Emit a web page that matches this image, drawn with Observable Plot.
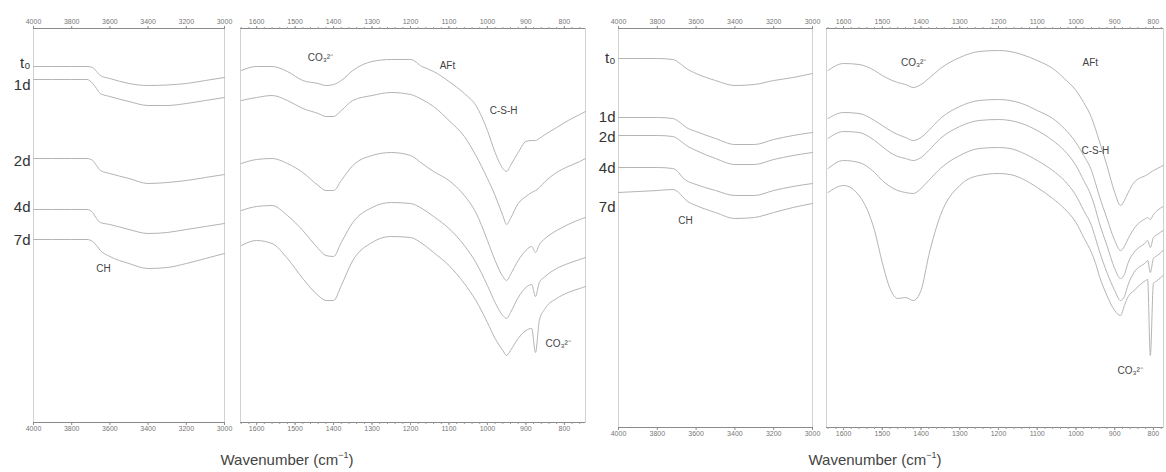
<!DOCTYPE html>
<html><head><meta charset="utf-8">
<script src="https://cdn.jsdelivr.net/npm/d3@7"></script>
<script src="https://cdn.jsdelivr.net/npm/@observablehq/plot@0.6"></script>
<style>
html,body{margin:0;padding:0;background:#fff;}
#chart{position:relative;width:1166px;height:472px;overflow:hidden;font-family:"Liberation Sans",Arial,sans-serif;}
#chart svg{position:absolute;top:0;overflow:visible;}
.xt{position:absolute;top:451px;font-size:15px;color:#444;white-space:nowrap;transform:translateX(-50%);}
.xt sup{font-size:9px;vertical-align:7px;line-height:0;}
</style></head><body><div id="chart"></div>
<script>
// ---- data (transmittance, arbitrary offset units) ----
const ages = ["t₀", "1d", "2d", "4d", "7d"];

// O-H region, 4000-3000 cm-1
const wnOH = [4000, 3900, 3800, 3720, 3690, 3670, 3650, 3600, 3500, 3400, 3300, 3200, 3100, 3000];
const leftOH = [
  [356, 356, 356, 356, 355, 351, 347, 344, 339, 337, 337.5, 339, 342, 345],
  [343, 343, 343, 343, 339, 334, 329, 326, 321, 317, 317, 319, 322, 325],
  [264, 264, 264, 264, 262, 257, 252, 249, 244, 239, 240, 242, 245, 248],
  [213, 213, 213, 213, 210, 204, 200, 198, 193, 189, 190, 193, 196, 199],
  [183, 183, 183, 183, 181, 177, 172, 166, 159, 154, 155, 159, 164, 169]
];
const rightOH = [
  [369, 369, 369, 368, 365, 362, 359, 354, 347, 342, 343, 347, 350, 354],
  [310, 310, 310, 309, 306, 303, 300, 296, 289, 283, 283, 288, 292, 295],
  [292, 292, 292, 291, 288, 285, 282, 277, 269, 263, 263, 268, 272, 275],
  [260, 260, 260, 259, 255, 250, 247, 243, 237, 232, 232, 237, 241, 244],
  [235, 236, 237, 238, 235, 231, 227, 222, 215, 209, 210, 215, 220, 224]
];

// fingerprint region, left sample
const wnL = [1640, 1600, 1560, 1520, 1480, 1440, 1420, 1400, 1380, 1350, 1300, 1250, 1200, 1170, 1140, 1100, 1060, 1030, 1000, 980, 960, 950, 940, 920, 900, 885, 875, 865, 850, 820, 790, 760, 745];
const leftFP = [
  [352, 356, 356, 351, 342, 339, 337, 338, 342, 352, 361, 363, 363, 356, 351, 341, 329, 317, 292, 270, 254, 251, 257, 270, 281, 282, 282, 284, 288, 295, 302, 308, 311],
  [322, 325, 327, 322, 314, 309, 306, 306, 312, 322, 327, 330, 328, 323, 316, 302, 286, 267, 244, 227, 207, 198, 204, 219, 226, 230, 232, 235, 241, 250, 256, 261, 264],
  [259, 263, 264, 259, 250, 237, 232, 232, 242, 257, 267, 270, 267, 259, 251, 242, 227, 210, 182, 162, 146, 142, 148, 162, 172, 176, 170, 178, 184, 192, 198, 203, 205],
  [212, 216, 217, 207, 192, 174, 167, 166, 180, 200, 215, 220, 219, 214, 206, 194, 177, 160, 137, 120, 107, 104, 110, 125, 135, 138, 126, 140, 146, 154, 159, 163, 165],
  [177, 182, 179, 164, 144, 127, 122, 122, 137, 162, 180, 186, 185, 179, 170, 157, 139, 122, 100, 84, 72, 67, 72, 84, 92, 94, 70, 102, 114, 124, 130, 134, 136]
];

// fingerprint region, right sample
const wnR = [1640, 1600, 1560, 1520, 1500, 1480, 1460, 1440, 1420, 1400, 1380, 1350, 1300, 1250, 1200, 1170, 1140, 1100, 1060, 1030, 1000, 980, 960, 950, 940, 920, 900, 885, 875, 870, 865, 850, 820, 815, 808, 800, 790, 775];
const rightFP = [
  [357, 364, 363, 357, 352, 348, 345, 343, 340, 343, 349, 359, 370, 376, 377, 376, 373, 367, 359, 349, 337, 325, 310, 299, 287, 262, 235, 222, 227, 231, 235, 245, 252, 253, 255, 257, 259, 262],
  [309, 315, 314, 307, 302, 297, 293, 290, 287, 290, 297, 309, 321, 327, 328, 327, 324, 317, 309, 299, 285, 272, 257, 245, 232, 209, 187, 177, 181, 185, 189, 199, 209, 210, 208, 213, 217, 221],
  [289, 296, 295, 287, 281, 275, 271, 269, 267, 270, 277, 289, 301, 307, 308, 307, 304, 297, 287, 277, 262, 247, 231, 219, 205, 182, 159, 149, 153, 159, 165, 175, 185, 187, 180, 190, 193, 197],
  [259, 267, 265, 255, 247, 241, 237, 235, 234, 239, 247, 259, 272, 279, 280, 279, 275, 267, 257, 247, 232, 217, 202, 190, 177, 155, 137, 127, 131, 137, 143, 155, 165, 167, 155, 169, 172, 177],
  [235, 242, 232, 197, 165, 139, 129, 130, 127, 137, 172, 212, 242, 252, 254, 253, 249, 240, 229, 219, 205, 190, 175, 165, 152, 132, 117, 112, 122, 127, 131, 137, 147, 148, 72, 144, 147, 152]
];

// series label heights
const leftLabelY = [359, 337, 261, 215, 182];
const rightLabelY = [369, 310, 290, 259, 220];

// tick values
const ticksOH = [4000, 3800, 3600, 3400, 3200, 3000];
const ticksFP = [1600, 1500, 1400, 1300, 1200, 1100, 1000, 900, 800];
const minorFP = d3.range(760, 1641, 20);

// band annotations
const leftOHNoteText = ["CH"], leftOHNoteW = [3634], leftOHNoteV = [154];
const leftFPNoteText = ["CO₃²⁻", "AFt", "C-S-H", "CO₃²⁻"];
const leftFPNoteW = [1434, 1104, 958, 816];
const leftFPNoteV = [365, 357, 312, 79];
const rightOHNoteText = ["CH"], rightOHNoteW = [3655], rightOHNoteV = [207];
const rightFPNoteText = ["CO₃²⁻", "AFt", "C-S-H", "CO₃²⁻"];
const rightFPNoteW = [1419, 963, 950, 860];
const rightFPNoteV = [365, 365, 277, 57];

// ---- drawing ----
const FONT = "'Liberation Sans', Arial, sans-serif";
function longData(wn, rows) {
  return rows.flatMap((r, i) => r.map((v, j) => ({w: wn[j], v, age: ages[i]})));
}
function subplot({left, width, domain, bottom, wn, rows, majors, minors, labelY, noteText, noteW, noteV}) {
  const yMax = bottom - 28;
  const marks = [
    Plot.frame({stroke: "#d2d2d2"}),
    Plot.ruleY([0, yMax], {stroke: "#8a8a8a"}),
    Plot.axisX({anchor: "top", ticks: majors, tickSize: 3, tickPadding: 2, fontSize: 7, stroke: "#8a8a8a", fill: "#777", tickFormat: d => String(d), label: null}),
    Plot.axisX({anchor: "bottom", ticks: majors, tickSize: 3, tickPadding: 1, fontSize: 7, stroke: "#8a8a8a", fill: "#777", tickFormat: d => String(d), label: null}),
    Plot.line(longData(wn, rows), {x: "w", y: "v", z: "age", stroke: "#b4b4b4", strokeWidth: 1, curve: "monotone-x"}),
    Plot.text(noteText, {x: (d, i) => noteW[i], y: (d, i) => noteV[i], text: d => d, fontSize: 10, fill: "#444"})
  ];
  if (minors) {
    marks.push(Plot.axisX({anchor: "top", ticks: minors, tickSize: 2, stroke: "#9a9a9a", tickFormat: () => "", label: null}));
    marks.push(Plot.axisX({anchor: "bottom", ticks: minors, tickSize: 2, stroke: "#9a9a9a", tickFormat: () => "", label: null}));
  }
  if (labelY) {
    marks.push(Plot.text(ages, {y: (d, i) => labelY[i], text: d => d, frameAnchor: "left", dx: -3, textAnchor: "end", fontSize: 15, fill: "#333"}));
  }
  const svg = Plot.plot({
    width, height: 472,
    marginLeft: 0, marginRight: 0, marginTop: 28, marginBottom: 472 - bottom,
    x: {domain},
    y: {domain: [0, yMax], axis: null},
    style: {fontFamily: FONT, background: "transparent", overflow: "visible"},
    marks
  });
  svg.style.left = left + "px";
  document.getElementById("chart").appendChild(svg);
}

subplot({left: 33, width: 191, domain: [4000, 3000], bottom: 422, wn: wnOH, rows: leftOH, majors: ticksOH,
  labelY: leftLabelY, noteText: leftOHNoteText, noteW: leftOHNoteW, noteV: leftOHNoteV});
subplot({left: 240, width: 345, domain: [1642, 745], bottom: 422, wn: wnL, rows: leftFP, majors: ticksFP, minors: minorFP,
  noteText: leftFPNoteText, noteW: leftFPNoteW, noteV: leftFPNoteV});
subplot({left: 618, width: 194, domain: [4000, 3000], bottom: 427, wn: wnOH, rows: rightOH, majors: ticksOH,
  labelY: rightLabelY, noteText: rightOHNoteText, noteW: rightOHNoteW, noteV: rightOHNoteV});
subplot({left: 826, width: 337, domain: [1644, 774], bottom: 427, wn: wnR, rows: rightFP, majors: ticksFP, minors: minorFP,
  noteText: rightFPNoteText, noteW: rightFPNoteW, noteV: rightFPNoteV});

const chart = document.getElementById("chart");
for (const cx of [287, 875]) {
  const d = document.createElement("div");
  d.className = "xt";
  d.style.left = cx + "px";
  d.innerHTML = "Wavenumber (cm<sup>−1</sup>)";
  chart.appendChild(d);
}
</script></body></html>
